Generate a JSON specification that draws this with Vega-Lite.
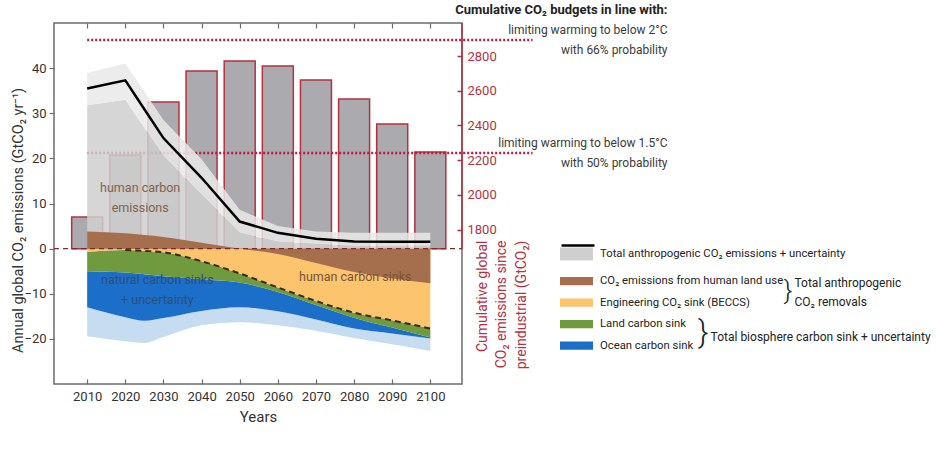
{
  "$schema": "https://vega.github.io/schema/vega-lite/v6.json",
  "width": 408,
  "height": 361,
  "autosize": {"type": "none"},
  "padding": {"left": 54, "top": 23, "right": 474, "bottom": 77},
  "config": {
    "font": "Roboto",
    "view": {"stroke": "#6b6b6b", "strokeWidth": 1.5},
    "axis": {"grid": false, "labelFont": "Roboto", "titleFont": "Roboto", "labelFontSize": 13, "labelColor": "#333333", "titleColor": "#333333", "titleFontWeight": "normal", "tickColor": "#6b6b6b", "domainColor": "#6b6b6b"},
    "legend": {"labelFont": "Roboto", "labelFontSize": 11.3, "labelColor": "#222222", "labelLimit": 400}
  },
  "datasets": {
    "s": [
      {"year": 2010, "total": 35.5, "lo": 31.8, "hi": 38.9, "lu": 3.8, "rem": -0.7, "land": -5.0, "ocean": -13.0, "unc": -19.4},
      {"year": 2020, "total": 37.3, "lo": 33.0, "hi": 41.0, "lu": 3.4, "rem": -0.3, "land": -5.3, "ocean": -15.2, "unc": -20.5},
      {"year": 2025, "total": 30.9, "lo": 26.8, "hi": 34.8, "lu": 3.0, "rem": -0.5, "land": -5.7, "ocean": -16.0, "unc": -20.9},
      {"year": 2030, "total": 24.5, "lo": 20.5, "hi": 28.5, "lu": 2.6, "rem": -0.8, "land": -6.1, "ocean": -15.4, "unc": -19.6},
      {"year": 2040, "total": 15.7, "lo": 12.0, "hi": 19.8, "lu": 1.3, "rem": -2.8, "land": -6.8, "ocean": -13.8, "unc": -17.0},
      {"year": 2050, "total": 6.0, "lo": 3.5, "hi": 8.6, "lu": 0.0, "rem": -5.5, "land": -7.5, "ocean": -13.0, "unc": -16.3},
      {"year": 2060, "total": 3.5, "lo": 1.5, "hi": 5.0, "lu": -1.2, "rem": -8.6, "land": -9.6, "ocean": -13.9, "unc": -17.0},
      {"year": 2070, "total": 2.2, "lo": 1.0, "hi": 3.8, "lu": -3.2, "rem": -11.6, "land": -12.5, "ocean": -15.7, "unc": -18.2},
      {"year": 2080, "total": 1.6, "lo": 0.6, "hi": 3.5, "lu": -5.2, "rem": -14.2, "land": -15.3, "ocean": -17.7, "unc": -19.8},
      {"year": 2090, "total": 1.5, "lo": 0.5, "hi": 3.5, "lu": -6.6, "rem": -15.9, "land": -17.5, "ocean": -18.8, "unc": -21.2},
      {"year": 2100, "total": 1.5, "lo": 0.5, "hi": 3.5, "lu": -7.7, "rem": -17.7, "land": -19.7, "ocean": -19.9, "unc": -22.7}
    ],
    "bars": [
      {"year": 2010, "cum": 1872},
      {"year": 2020, "cum": 2230},
      {"year": 2030, "cum": 2535},
      {"year": 2040, "cum": 2714},
      {"year": 2050, "cum": 2771},
      {"year": 2060, "cum": 2742},
      {"year": 2070, "cum": 2662},
      {"year": 2080, "cum": 2552},
      {"year": 2090, "cum": 2408},
      {"year": 2100, "cum": 2247}
    ]
  },
  "layer": [
    {
      "layer": [
        {
          "data": {"name": "bars"},
          "mark": {"type": "bar", "width": 31, "fill": "#ababaf", "stroke": "#b5313f", "strokeWidth": 1.5},
          "encoding": {
            "x": {"field": "year", "type": "quantitative", "scale": {"domain": [2001.3, 2108.3], "nice": false, "zero": false, "padding": 0},
              "axis": {"orient": "top", "values": [2010, 2020, 2030, 2040, 2050, 2060, 2070, 2080, 2090, 2100], "labels": false, "tickSize": -5, "domain": false, "title": null, "tickWidth": 1.2}},
            "y": {"field": "cum", "type": "quantitative", "scale": {"domain": [910, 2990.5], "nice": false, "zero": false},
              "axis": {"orient": "right", "values": [1800, 2000, 2200, 2400, 2600, 2800], "format": "d", "domain": false, "tickColor": "#b5313f", "tickSize": -5, "tickWidth": 1.5, "labelColor": "#b5313f", "labelPadding": 10, "labelFontSize": 13,
                "title": ["Cumulative global", "CO₂ emissions since", "preindustrial (GtCO₂)"], "titleColor": "#b5313f", "titleFontSize": 14, "titleAngle": -90, "titleAlign": "right", "titleBaseline": "top", "titleX": 13, "titleY": 217, "titleLineHeight": 19.5}},
            "y2": {"datum": 1690}
          }
        },
        {
          "data": {"values": [{}]},
          "mark": {"type": "rule", "stroke": "#c01a42", "strokeWidth": 2.5, "strokeDash": [2, 2]},
          "encoding": {"x": {"datum": 2010}, "x2": {"datum": 2126.8}, "y": {"datum": 2892}}
        },
        {
          "data": {"values": [{}]},
          "mark": {"type": "rule", "stroke": "#c01a42", "strokeWidth": 2.5, "strokeDash": [2, 2]},
          "encoding": {"x": {"datum": 2010}, "x2": {"datum": 2126.8}, "y": {"datum": 2241}}
        },
        {
          "data": {"values": [{}]},
          "mark": {"type": "rule", "stroke": "#b5313f", "strokeWidth": 1.5},
          "encoding": {"x": {"datum": 2108.3}, "y": {"datum": 1690}, "y2": {"datum": 2990.5}}
        }
      ]
    },
    {
      "data": {"name": "s"},
      "layer": [
        {
          "mark": {"type": "area", "opacity": 0.85, "interpolate": "linear"},
          "encoding": {
            "x": {"field": "year", "type": "quantitative", "scale": {"domain": [2001.3, 2108.3], "nice": false, "zero": false, "padding": 0},
              "axis": {"orient": "bottom", "values": [2010, 2020, 2030, 2040, 2050, 2060, 2070, 2080, 2090, 2100], "format": "d", "tickSize": -5, "tickWidth": 1.2, "domain": false, "labelPadding": 11, "title": "Years", "titleFontSize": 15, "titlePadding": 6}},
            "y": {"field": "lo", "type": "quantitative", "scale": {"domain": [-30, 50], "nice": false, "zero": false},
              "axis": {"orient": "left", "values": [-20, -10, 0, 10, 20, 30, 40], "domain": false, "tickSize": 5, "tickWidth": 1.2, "labelPadding": 3, "title": "Annual global CO₂ emissions (GtCO₂ yr⁻¹)", "titleFontSize": 14.5, "titleAngle": -90, "titleAlign": "center", "titleBaseline": "middle", "titleX": -36, "titleY": 197}},
            "y2": {"datum": 0},
            "fill": {"datum": "Total anthropogenic CO₂ emissions + uncertainty", "scale": {"range": ["#cfcfcf"]},
              "legend": {"orient": "none", "legendX": 506, "legendY": 224, "title": null, "symbolType": "M-1,-0.4H1V0.4H-1Z", "symbolSize": 1089, "clipHeight": 14, "labelOffset": 7, "padding": 0, "symbolStrokeWidth": 0, "symbolOpacity": 1}}
          }
        },
        {
          "mark": {"type": "area", "opacity": 0.85, "interpolate": "linear", "fill": "#e9e9e9"},
          "encoding": {
            "x": {"field": "year", "type": "quantitative"},
            "y": {"field": "hi", "type": "quantitative"},
            "y2": {"field": "lo"}
          }
        },
        {
          "mark": {"type": "area", "interpolate": "monotone", "fill": "#c6dcf0"},
          "encoding": {
            "x": {"field": "year", "type": "quantitative"},
            "y": {"field": "unc", "type": "quantitative"},
            "y2": {"field": "ocean"}
          }
        },
        {
          "mark": {"type": "area", "interpolate": "monotone"},
          "encoding": {
            "x": {"field": "year", "type": "quantitative"},
            "y": {"field": "ocean", "type": "quantitative"},
            "y2": {"field": "land"},
            "color": {"datum": "Ocean carbon sink",
              "scale": {"domain": ["CO₂ emissions from human land use", "Engineering CO₂ sink (BECCS)", "Land carbon sink", "Ocean carbon sink"], "range": ["#a56f4e", "#fdc46e", "#6f9a3e", "#1b6fc8"]},
              "legend": {"orient": "none", "legendX": 506, "legendY": 251, "title": null, "symbolType": "M-1,-0.25H1V0.25H-1Z", "symbolSize": 1089, "clipHeight": 14, "labelOffset": 7, "padding": 0, "rowPadding": 7.5, "symbolStrokeWidth": 0, "symbolOpacity": 1}}
          }
        },
        {
          "mark": {"type": "area", "interpolate": "monotone"},
          "encoding": {
            "x": {"field": "year", "type": "quantitative"},
            "y": {"field": "land", "type": "quantitative"},
            "y2": {"field": "rem"},
            "color": {"datum": "Land carbon sink"}
          }
        },
        {
          "mark": {"type": "area", "interpolate": "monotone"},
          "encoding": {
            "x": {"field": "year", "type": "quantitative"},
            "y": {"field": "rem", "type": "quantitative"},
            "y2": {"datum": 0},
            "color": {"datum": "Engineering CO₂ sink (BECCS)"}
          }
        },
        {
          "mark": {"type": "area", "interpolate": "monotone"},
          "encoding": {
            "x": {"field": "year", "type": "quantitative"},
            "y": {"field": "lu", "type": "quantitative"},
            "y2": {"datum": 0},
            "color": {"datum": "CO₂ emissions from human land use"}
          }
        },
        {
          "transform": [{"filter": "datum.year >= 2020"}],
          "mark": {"type": "line", "interpolate": "monotone", "stroke": "#3b2a18", "strokeWidth": 2, "strokeDash": [6, 4]},
          "encoding": {
            "x": {"field": "year", "type": "quantitative"},
            "y": {"field": "rem", "type": "quantitative"}
          }
        },
        {
          "mark": {"type": "line", "interpolate": "linear", "strokeWidth": 2.5},
          "encoding": {
            "x": {"field": "year", "type": "quantitative"},
            "y": {"field": "total", "type": "quantitative"},
            "stroke": {"datum": "line", "scale": {"range": ["#000000"]},
              "legend": {"orient": "none", "legendX": 506, "legendY": 219.5, "title": null, "symbolType": "stroke", "symbolSize": 1089, "symbolStrokeWidth": 2.5, "clipHeight": 6, "labelExpr": "''", "padding": 0}}
          }
        },
        {
          "data": {"values": [{}]},
          "mark": {"type": "rule", "stroke": "#7b2b2b", "strokeWidth": 1.2, "strokeDash": [5, 4]},
          "encoding": {"x": {"datum": 2001.3}, "x2": {"datum": 2108.3}, "y": {"datum": 0}}
        },
        {
          "data": {"values": [{}]},
          "mark": {"type": "text", "text": ["human carbon", "emissions"], "fontSize": 12.5, "lineHeight": 20, "color": "#80634e", "align": "center", "baseline": "middle"},
          "encoding": {"x": {"datum": 2023.9}, "y": {"datum": 13.4}}
        },
        {
          "data": {"values": [{}]},
          "mark": {"type": "text", "text": ["natural carbon sinks", "+ uncertainty"], "fontSize": 12.5, "lineHeight": 20, "color": "#2d4f7c", "align": "center", "baseline": "middle"},
          "encoding": {"x": {"datum": 2028.4}, "y": {"datum": -7.0}}
        },
        {
          "data": {"values": [{}]},
          "mark": {"type": "text", "text": "human carbon sinks", "fontSize": 12.5, "color": "#7a5234", "align": "center", "baseline": "middle"},
          "encoding": {"x": {"datum": 2080.3}, "y": {"datum": -6.2}}
        },
        {
          "data": {"values": [{}]},
          "mark": {"type": "text", "text": "Cumulative CO₂ budgets in line with:", "fontSize": 13, "fontWeight": "bold", "color": "#222222", "align": "right", "baseline": "middle"},
          "encoding": {"x": {"datum": 2162.2}, "y": {"datum": 52.9}}
        },
        {
          "data": {"values": [{}]},
          "mark": {"type": "text", "text": ["limiting warming to below 2°C", "with 66% probability"], "fontSize": 12, "lineHeight": 20, "color": "#3a3a3a", "align": "right", "baseline": "middle"},
          "encoding": {"x": {"datum": 2162.2}, "y": {"datum": 48.45}}
        },
        {
          "data": {"values": [{}]},
          "mark": {"type": "text", "text": ["limiting warming to below 1.5°C", "with 50% probability"], "fontSize": 12, "lineHeight": 20, "color": "#3a3a3a", "align": "right", "baseline": "middle"},
          "encoding": {"x": {"datum": 2162.2}, "y": {"datum": 23.47}}
        },
        {
          "data": {"values": [{}]},
          "mark": {"type": "text", "text": "}", "fontSize": 26, "fontWeight": 300, "color": "#222222", "align": "center", "baseline": "middle"},
          "encoding": {"x": {"datum": 2193.8}, "y": {"datum": -9.4}}
        },
        {
          "data": {"values": [{}]},
          "mark": {"type": "text", "text": ["Total anthropogenic", "CO₂ removals"], "fontSize": 12, "lineHeight": 19, "color": "#222222", "align": "left", "baseline": "middle"},
          "encoding": {"x": {"datum": 2195.5}, "y": {"datum": -7.67}}
        },
        {
          "data": {"values": [{}]},
          "mark": {"type": "text", "text": "}", "fontSize": 32, "fontWeight": 300, "color": "#222222", "align": "center", "baseline": "middle"},
          "encoding": {"x": {"datum": 2171.6}, "y": {"datum": -18.7}}
        },
        {
          "data": {"values": [{}]},
          "mark": {"type": "text", "text": "Total biosphere carbon sink + uncertainty", "fontSize": 12, "color": "#222222", "align": "left", "baseline": "middle"},
          "encoding": {"x": {"datum": 2173.5}, "y": {"datum": -19.6}}
        }
      ]
    }
  ],
  "resolve": {"scale": {"y": "independent"}, "axis": {"x": "independent"}}
}
